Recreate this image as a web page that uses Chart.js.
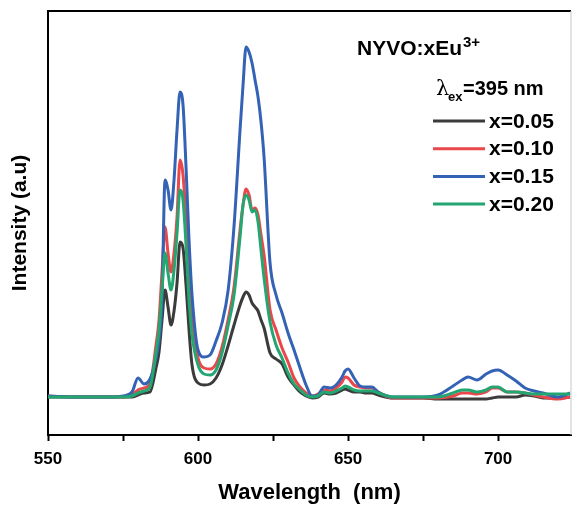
<!DOCTYPE html>
<html>
<head>
<meta charset="utf-8">
<script src="https://cdn.jsdelivr.net/npm/chart.js@4"></script>
<style>
  html, body { margin: 0; padding: 0; background: #fff; }
  #wrap { width: 574px; height: 506px; }
</style>
</head>
<body>
<div id="wrap"><canvas id="myChart" width="574" height="506"></canvas></div>
<script>
// wavelength grid (nm)
const wavelength = [550, 560, 570, 575, 578, 580, 582, 584, 586, 587, 588, 589, 590, 591, 592, 593, 594, 595, 596, 597, 598,
  600, 602, 604, 606, 608, 610, 612, 614, 615, 616, 617, 618, 619, 620, 621, 622, 624, 626, 628, 630, 632, 634, 636, 638,
  640, 642, 644, 646, 648, 649, 650, 652, 654, 656, 658, 660, 665, 670, 675, 680, 685, 688, 690, 693, 696, 698, 700, 703,
  706, 709, 712, 715, 720, 724];

const x005 = [0, 0, 0, 0, 0, 2, 4, 5, 29, 45, 77, 107, 90, 72, 86, 114, 155, 149, 112, 67, 32,
  14, 12, 13, 19, 32, 51, 72, 92, 100, 105, 102, 94, 90, 86, 77, 69, 44, 38, 33, 20, 12, 5, 1, -1,
  0, 4, 3, 4, 7, 8, 7, 5, 5, 4, 4, 2, -1, -1, -1, -2, -2, -2, -2, -2, -2, -1, 0, 0,
  0, 2, 1, -1, -1, 0];

const x010 = [1, 0, 0, 0, 2, 7, 9, 13, 52, 77, 125, 170, 144, 125, 144, 180, 237, 222, 177, 117, 77,
  39, 29, 28, 33, 50, 77, 110, 167, 192, 208, 202, 187, 189, 182, 162, 142, 87, 67, 49, 35, 19, 10, 4, 1,
  3, 7, 6, 9, 15, 20, 19, 12, 10, 9, 9, 5, -1, -1, -1, -1, 1, 4, 4, 3, 5, 9, 9, 5,
  5, 4, 2, 0, -2, 0];

const x015 = [1, 0, 0, 1, 5, 19, 13, 18, 39, 57, 97, 217, 207, 187, 217, 267, 305, 292, 230, 157, 102,
  47, 40, 42, 56, 74, 106, 171, 267, 312, 350, 345, 334, 317, 300, 275, 240, 134, 102, 84, 64, 47, 29, 12, 1,
  2, 10, 9, 12, 20, 26, 28, 19, 11, 10, 10, 5, 0, 0, 0, 2, 11, 17, 20, 17, 23, 26, 27, 22,
  16, 9, 6, 4, 0, 4];

const x020 = [0, 0, 0, 0, 1, 4, 6, 10, 45, 67, 107, 144, 124, 107, 127, 164, 207, 197, 152, 97, 62,
  32, 23, 22, 27, 44, 71, 102, 160, 192, 202, 197, 185, 187, 175, 147, 119, 75, 52, 39, 24, 13, 7, 2, 0,
  1, 5, 4, 6, 9, 11, 10, 7, 6, 6, 6, 4, 0, 0, 0, 0, 4, 7, 7, 5, 7, 10, 10, 5,
  5, 4, 3, 3, 3, 3];

const seriesLabels = ['x=0.05', 'x=0.10', 'x=0.15', 'x=0.20'];
const seriesColors = ['#3b3b3b', '#e9474a', '#3462b4', '#23a671'];
const xTickValues = [550, 575, 600, 625, 650, 675, 700];

const FONT = "'Liberation Sans', Arial, sans-serif";

const toPoints = (vals) => wavelength.map((w, i) => ({ x: w, y: vals[i] }));

// frame top/right + text annotations + legend
const annotations = {
  id: 'annotations',
  afterDraw(chart) {
    const { ctx, chartArea } = chart;
    ctx.save();
    ctx.strokeStyle = '#000';
    ctx.lineWidth = 2;
    ctx.beginPath();
    ctx.moveTo(chartArea.left, chartArea.top);
    ctx.lineTo(chartArea.right, chartArea.top);
    ctx.stroke();
    ctx.strokeStyle = '#c8c8c8';
    ctx.lineWidth = 1;
    ctx.beginPath();
    ctx.moveTo(chartArea.right, chartArea.top);
    ctx.lineTo(chartArea.right, chartArea.bottom);
    ctx.stroke();

    ctx.fillStyle = '#000';
    ctx.textBaseline = 'alphabetic';
    ctx.textAlign = 'left';
    ctx.font = 'bold 21px ' + FONT;
    ctx.fillText('NYVO:xEu', 357, 55);
    let w = ctx.measureText('NYVO:xEu').width;
    ctx.font = 'bold 15px ' + FONT;
    ctx.fillText('3+', 357 + w + 1, 47);

    ctx.font = '21px DejaVu Serif, serif';
    ctx.fillText('λ', 436, 95);
    ctx.font = 'bold 13px ' + FONT;
    ctx.fillText('ex', 448, 101);
    ctx.font = 'bold 20px ' + FONT;
    ctx.fillText('=395 nm', 463, 95);

    chart.data.datasets.forEach((ds, i) => {
      const y = 121 + i * 27.7;
      ctx.strokeStyle = ds.borderColor;
      ctx.lineWidth = 3;
      ctx.beginPath();
      ctx.moveTo(433, y);
      ctx.lineTo(485, y);
      ctx.stroke();
      ctx.font = 'bold 21px ' + FONT;
      ctx.textBaseline = 'middle';
      ctx.fillText(ds.label, 489, y + 1);
    });
    ctx.restore();
  }
};

const ctx1 = document.getElementById('myChart');
const myChart = new Chart(ctx1, {
  type: 'line',
  data: {
    datasets: [x005, x010, x015, x020].map((vals, i) => ({
      label: seriesLabels[i],
      data: toPoints(vals),
      borderColor: seriesColors[i],
      backgroundColor: seriesColors[i],
      borderWidth: 3,
      pointRadius: 0,
      cubicInterpolationMode: 'monotone',
      fill: false,
      order: 3 - i
    }))
  },
  options: {
    responsive: false,
    animation: false,
    layout: { padding: { top: 11, right: 3, left: 0, bottom: 0 } },
    plugins: {
      legend: { display: false },
      tooltip: { enabled: false }
    },
    scales: {
      x: {
        type: 'linear',
        min: 550,
        max: 724.3,
        afterBuildTicks: (s) => { s.ticks = xTickValues.map(v => ({ value: v })); },
        afterFit: (s) => { s.height = 71; },
        ticks: {
          color: '#000',
          font: { family: FONT, size: 17, weight: 'bold' },
          padding: 8,
          maxRotation: 0,
          autoSkip: false,
          callback: (v) => (v % 50 === 0 ? String(v) : '')
        },
        grid: { drawOnChartArea: false, drawTicks: true, tickLength: 6, tickWidth: 2, tickColor: '#000' },
        border: { display: true, color: '#000', width: 2 },
        title: {
          display: true,
          text: 'Wavelength  (nm)',
          color: '#000',
          font: { family: FONT, size: 22, weight: 'bold' },
          padding: { top: 0, bottom: 0 }
        }
      },
      y: {
        min: -38,
        max: 386,
        afterFit: (s) => { s.width = 48; },
        ticks: { display: false },
        grid: { drawOnChartArea: false, drawTicks: false },
        border: { display: true, color: '#000', width: 2 },
        title: {
          display: true,
          text: 'Intensity (a.u)',
          color: '#000',
          font: { family: FONT, size: 21, weight: 'bold' },
          padding: { top: 8, bottom: 0 }
        }
      }
    }
  },
  plugins: [annotations]
});
</script>
</body>
</html>
